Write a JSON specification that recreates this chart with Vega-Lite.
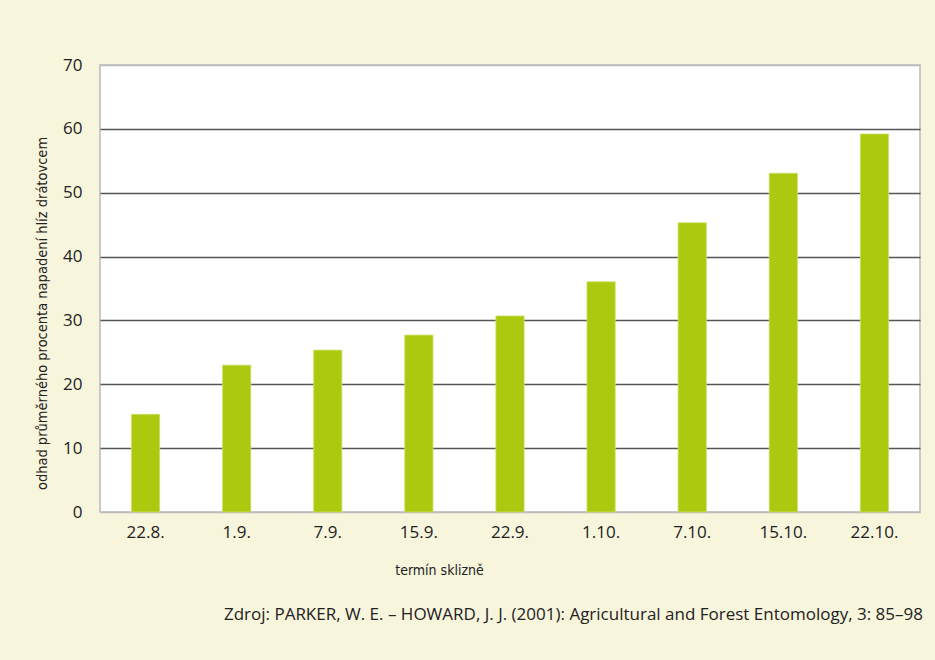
{
  "$schema": "https://vega.github.io/schema/vega-lite/v6.json",
  "width": 820,
  "height": 447,
  "autosize": {"type": "none"},
  "padding": {"left": 100, "top": 65, "right": 15, "bottom": 148},
  "background": "#F7F5DC",
  "view": {"fill": "white", "stroke": "#BBBBBB", "strokeWidth": 1.5},
  "title": {
    "text": "Zdroj: PARKER, W. E. – HOWARD, J. J. (2001):  Agricultural and Forest Entomology, 3: 85–98",
    "orient": "bottom",
    "anchor": "end",
    "frame": "group",
    "font": "Open Sans",
    "fontSize": 17,
    "fontWeight": "normal",
    "color": "#222222",
    "dx": 3,
    "offset": 30
  },
  "data": {
    "values": [
      {"termin": "22.8.", "hodnota": 15.3},
      {"termin": "1.9.", "hodnota": 23.0},
      {"termin": "7.9.", "hodnota": 25.35},
      {"termin": "15.9.", "hodnota": 27.7},
      {"termin": "22.9.", "hodnota": 30.7},
      {"termin": "1.10.", "hodnota": 36.05},
      {"termin": "7.10.", "hodnota": 45.3},
      {"termin": "15.10.", "hodnota": 53.05},
      {"termin": "22.10.", "hodnota": 59.2}
    ]
  },
  "mark": {"type": "bar", "color": "#ADC90F", "stroke": "#CFE06A", "strokeWidth": 0.8},
  "encoding": {
    "x": {
      "field": "termin",
      "type": "nominal",
      "sort": null,
      "scale": {"paddingInner": 0.69, "paddingOuter": 0.345},
      "axis": {
        "title": "termín sklizně",
        "titleFont": "DejaVu Sans Condensed",
        "titleFontSize": 14,
        "titleFontWeight": "normal",
        "titleColor": "#222222",
        "titleX": 339,
        "titleY": 58,
        "titleAlign": "center",
        "titleBaseline": "middle",
        "labelAngle": 0,
        "labelFont": "Open Sans",
        "labelFontSize": 17,
        "labelColor": "#222222",
        "labelPadding": 12,
        "domain": false,
        "ticks": false
      }
    },
    "y": {
      "field": "hodnota",
      "type": "quantitative",
      "scale": {"domain": [0, 70], "nice": false},
      "axis": {
        "title": "odhad průměrného procenta napadení hlíz drátovcem",
        "titleFont": "DejaVu Sans Condensed",
        "titleFontSize": 14.5,
        "titleFontWeight": "normal",
        "titleColor": "#222222",
        "titleX": -58,
        "titleY": 248,
        "titleAngle": -90,
        "titleAlign": "center",
        "titleBaseline": "middle",
        "values": [0, 10, 20, 30, 40, 50, 60, 70],
        "labelFont": "Open Sans",
        "labelFontSize": 17,
        "labelColor": "#222222",
        "labelPadding": 18,
        "domain": false,
        "ticks": false,
        "grid": true,
        "gridColor": {"condition": {"test": "datum.value == 0 || datum.value == 70", "value": "#BBBBBB"}, "value": "#555555"},
        "gridWidth": 1.3
      }
    }
  }
}
